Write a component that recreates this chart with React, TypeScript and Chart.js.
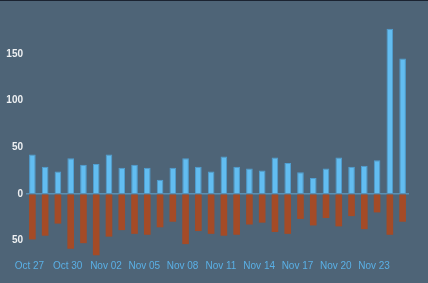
import React, { useEffect, useRef } from "react";
import { Chart, registerables } from "chart.js";

Chart.register(...registerables);

const categories = [
  "Oct 27", "Oct 28", "Oct 29", "Oct 30", "Oct 31",
  "Nov 01", "Nov 02", "Nov 03", "Nov 04", "Nov 05",
  "Nov 06", "Nov 07", "Nov 08", "Nov 09", "Nov 10",
  "Nov 11", "Nov 12", "Nov 13", "Nov 14", "Nov 15",
  "Nov 16", "Nov 17", "Nov 18", "Nov 19", "Nov 20",
  "Nov 21", "Nov 22", "Nov 23", "Nov 24", "Nov 25",
];

const positiveValues = [
  42, 29, 24, 38, 31, 32, 42, 28, 31, 28,
  15, 28, 38, 29, 24, 40, 29, 27, 25, 39,
  33, 23, 17, 27, 39, 29, 30, 36, 177, 145,
];

const negativeValues = [
  -49, -45, -32, -59, -53, -66, -46, -39, -43, -44,
  -36, -30, -54, -40, -43, -45, -44, -33, -31, -41,
  -43, -27, -34, -26, -35, -24, -38, -20, -44, -30,
];

const yTicks = [-50, 0, 50, 100, 150];

export default function App() {
  const canvasRef = useRef<HTMLCanvasElement | null>(null);

  useEffect(() => {
    document.body.style.margin = "0";
    document.body.style.background = "#4e6477";
    const canvas = canvasRef.current;
    if (!canvas) return;
    const chart = new Chart(canvas, {
      type: "bar",
      data: {
        labels: categories,
        datasets: [
          {
            label: "Positive",
            data: positiveValues,
            backgroundColor: "#62bdf1",
            borderColor: "#4f9fd2",
            borderWidth: 1,
            borderSkipped: "bottom",
            categoryPercentage: 1,
            barPercentage: 0.52,
          },
          {
            label: "Negative",
            data: negativeValues,
            backgroundColor: "#a44b27",
            borderWidth: 0,
            categoryPercentage: 1,
            barPercentage: 0.52,
          },
        ],
      },
      options: {
        responsive: false,
        animation: false,
        layout: { padding: { top: 26, right: 19, bottom: 10, left: 0 } },
        plugins: {
          legend: { display: false },
          tooltip: { enabled: false },
        },
        scales: {
          x: {
            stacked: true,
            grid: { display: false, drawTicks: false },
            border: { display: false },
            ticks: {
              color: "#5ab0e6",
              font: { family: "Liberation Sans, Arial, sans-serif", size: 10 },
              padding: 1,
              maxRotation: 0,
              autoSkip: false,
              labelOffset: -3,
              callback: (_v: any, i: number) => (i % 3 === 0 ? categories[i] : ""),
            },
          },
          y: {
            stacked: true,
            min: -70,
            max: 180,
            afterBuildTicks: (scale: any) => {
              scale.ticks = yTicks.map((v) => ({ value: v }));
            },
            afterFit: (scale: any) => {
              scale.width = 26;
            },
            grid: {
              drawTicks: false,
              color: (ctx: any) =>
                ctx.tick && ctx.tick.value === 0 ? "rgba(98,180,232,0.55)" : "rgba(0,0,0,0)",
              lineWidth: 1.5,
            },
            border: { display: false },
            ticks: {
              color: "#eef0f2",
              font: { family: "Liberation Sans, Arial, sans-serif", size: 10, weight: "bold" },
              padding: 3,
              callback: (v: any) => String(Math.abs(Number(v))),
            },
          },
        },
      },
    });
    return () => chart.destroy();
  }, []);

  return (
    <div style={{ position: "relative", width: 428, height: 283, background: "#4e6477" }}>
      <div style={{ position: "absolute", left: 0, top: 0, width: 428, height: 1, background: "#1b2331" }} />
      <canvas ref={canvasRef} width={428} height={283} style={{ display: "block" }} />
    </div>
  );
}
